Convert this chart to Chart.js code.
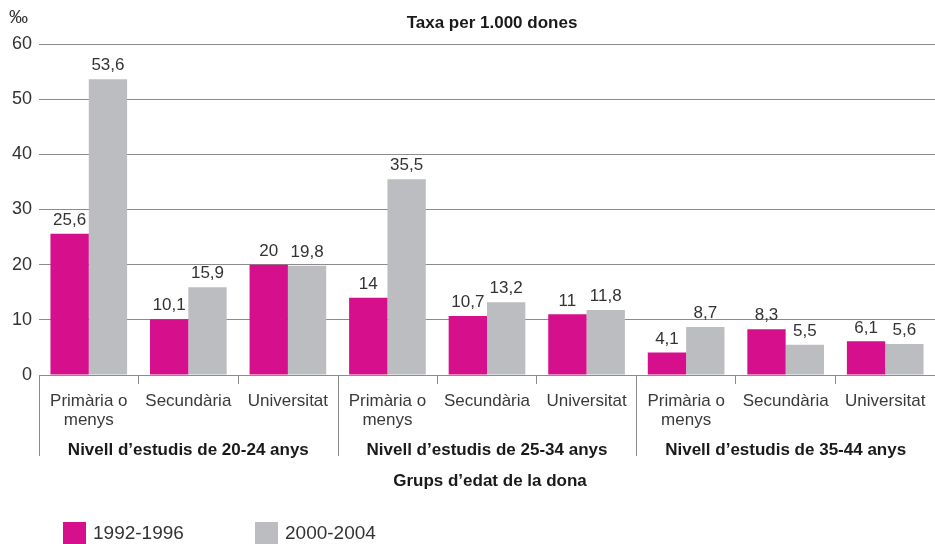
<!DOCTYPE html>
<html>
<head>
<meta charset="utf-8">
<script src="https://cdn.jsdelivr.net/npm/chart.js@4/dist/chart.umd.min.js"></script>
<style>
  html, body { margin: 0; padding: 0; background: #fff; }
  #wrap { width: 935px; height: 544px; position: relative; }
</style>
</head>
<body>
<div id="wrap"><canvas id="c" width="935" height="544"></canvas></div>
<script>
// Study level categories (repeated within each age group)
const categories = [
  ['Primària o', 'menys'], 'Secundària', 'Universitat',
  ['Primària o', 'menys'], 'Secundària', 'Universitat',
  ['Primària o', 'menys'], 'Secundària', 'Universitat'
];
// Age groups, each spanning three categories
const groups = [
  'Nivell d’estudis de 20-24 anys',
  'Nivell d’estudis de 25-34 anys',
  'Nivell d’estudis de 35-44 anys'
];
// Rate per 1,000 women
const series1992 = [25.6, 10.1, 20, 14, 10.7, 11, 4.1, 8.3, 6.1];
const series2000 = [53.6, 15.9, 19.8, 35.5, 13.2, 11.8, 8.7, 5.5, 5.6];
const seriesNames = ['1992-1996', '2000-2004'];
const yTicks = [0, 10, 20, 30, 40, 50, 60];

const FONT = '"Liberation Sans", Arial, sans-serif';
const MAGENTA = '#d60f8c';
const GREY = '#bcbdc0';
const LINE = '#8c8c8c';

const fmt = v => String(v).replace('.', ',');

const extras = {
  id: 'extras',
  afterDraw(chart) {
    const ctx = chart.ctx;
    const area = chart.chartArea;
    const xs = chart.scales.x;
    ctx.save();

    // value labels above each bar
    ctx.font = '17px ' + FONT;
    ctx.fillStyle = '#333';
    ctx.textAlign = 'center';
    ctx.textBaseline = 'bottom';
    chart.data.datasets.forEach((ds, di) => {
      chart.getDatasetMeta(di).data.forEach((el, i) => {
        ctx.fillText(fmt(ds.data[i]), el.x, el.y - 5);
      });
    });

    // left axis extension and group separators
    ctx.strokeStyle = LINE;
    ctx.lineWidth = 1;
    const sepBottom = 456;
    const seps = [area.left];
    for (let g = 1; g < groups.length; g++) {
      seps.push((xs.getPixelForValue(g * 3 - 1) + xs.getPixelForValue(g * 3)) / 2);
    }
    seps.forEach(x => {
      const px = Math.round(x) + 0.5;
      ctx.beginPath();
      ctx.moveTo(px, area.bottom);
      ctx.lineTo(px, sepBottom);
      ctx.stroke();
    });

    // group labels
    ctx.font = 'bold 17px ' + FONT;
    ctx.fillStyle = '#1a1a1a';
    ctx.textBaseline = 'middle';
    groups.forEach((g, gi) => {
      const cx = (xs.getPixelForValue(gi * 3) + xs.getPixelForValue(gi * 3 + 2)) / 2;
      ctx.fillText(g, cx, 450);
    });

    // axis title and chart title
    const midX = (area.left + area.right) / 2;
    ctx.fillText('Grups d’edat de la dona', midX + 3, 481);
    ctx.fillText('Taxa per 1.000 dones', midX + 5, 23);

    // unit
    ctx.font = '19px ' + FONT;
    ctx.fillStyle = '#333';
    ctx.textAlign = 'left';
    ctx.fillText('‰', 9, 18);

    // legend
    ctx.font = '19px ' + FONT;
    const legendX = [63, 255];
    chart.data.datasets.forEach((ds, di) => {
      ctx.fillStyle = ds.backgroundColor;
      ctx.fillRect(legendX[di], 522, 23, 22);
      ctx.fillStyle = '#333';
      ctx.fillText(ds.label, legendX[di] + 30, 534);
    });

    ctx.restore();
  }
};

new Chart(document.getElementById('c'), {
  type: 'bar',
  data: {
    labels: categories,
    datasets: [
      { label: seriesNames[0], data: series1992, backgroundColor: MAGENTA },
      { label: seriesNames[1], data: series2000, backgroundColor: GREY }
    ]
  },
  options: {
    responsive: false,
    animation: false,
    devicePixelRatio: 1,
    layout: { padding: { top: 44, right: 0, bottom: 0, left: 0 } },
    datasets: { bar: { categoryPercentage: 0.77, barPercentage: 1.0 } },
    plugins: { legend: { display: false }, tooltip: { enabled: false }, title: { display: false } },
    scales: {
      x: {
        offset: true,
        grid: {
          offset: true, drawOnChartArea: false, tickLength: 9,
          // group boundaries and the outer edges get their own lines
          color: c => (c.type !== 'tick' || c.index % 3 === 0 ? 'rgba(0,0,0,0)' : LINE)
        },
        border: { color: LINE },
        ticks: { font: { family: FONT, size: 17, lineHeight: 1.1 }, color: '#3a3a3a', padding: 8, maxRotation: 0, autoSkip: false },
        afterFit: s => { s.height = 544 - 44 - 331; }
      },
      y: {
        min: 0, max: 60,
        afterBuildTicks: s => { s.ticks = yTicks.map(v => ({ value: v })); },
        grid: { color: LINE, drawTicks: false },
        border: { display: false },
        ticks: { font: { family: FONT, size: 18 }, color: '#333', padding: 7 },
        afterFit: s => { s.width = 39; }
      }
    }
  },
  plugins: [extras]
});
</script>
</body>
</html>
